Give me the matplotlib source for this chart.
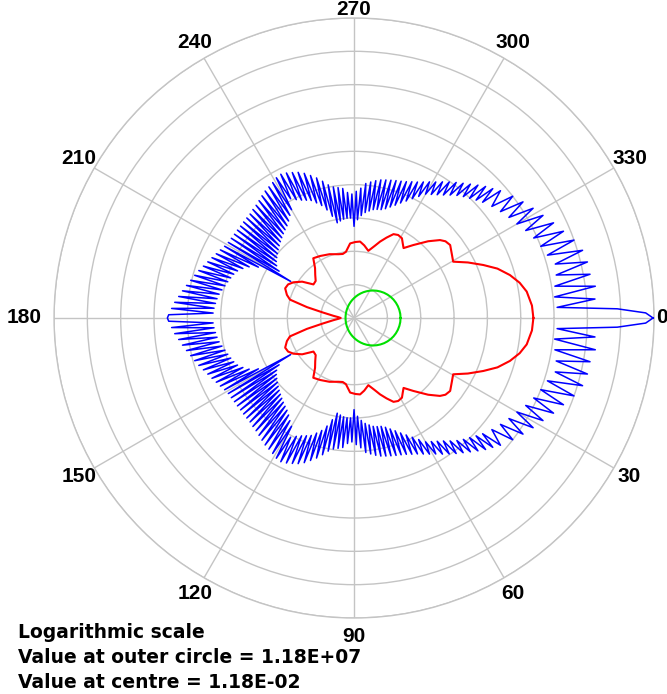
import numpy as np
import matplotlib
matplotlib.use("Agg")
import matplotlib.pyplot as plt

# Radii are given in decades above the centre value (log scale, 9 decades to outer circle)
CENTRE_VALUE = "1.18E-02"
OUTER_VALUE = "1.18E+07"
N_DECADES = 9

# ---- angle labels ----
angle_ticks = [0, 30, 60, 90, 120, 150, 180, 210, 240, 270, 300, 330]

# ---- green curve (lower half, mirrored) ----
green_deg = [0, 5, 10, 15, 20, 25, 30, 35, 40, 45, 50, 55, 60, 65, 70, 75, 80,
             85, 90, 95, 100, 105, 110, 115, 120, 125, 130, 135, 140, 145, 150,
             155, 160, 165, 170, 175, 180]
green_dec = [1.395, 1.392, 1.380, 1.362, 1.337, 1.306, 1.268, 1.224, 1.176,
             1.122, 1.066, 1.007, 0.946, 0.884, 0.823, 0.762, 0.704, 0.648,
             0.596, 0.549, 0.506, 0.467, 0.433, 0.402, 0.376, 0.353, 0.334,
             0.317, 0.303, 0.291, 0.281, 0.272, 0.266, 0.261, 0.258, 0.256,
             0.255]

# ---- red curve (lower half, mirrored) ----
red_deg = [0, 4, 8.7, 12, 15.4, 19, 22.3, 26, 29.6, 33, 37.2, 40, 42.2, 46,
           50.9, 54.7, 57, 59, 62, 64.8, 68, 71.2, 74, 78, 82, 85.5, 89, 93,
           97, 100, 103.8, 111, 118.7, 124.3, 128, 132, 136, 140.4, 145,
           149.5, 153, 156.7, 161, 164, 167, 170, 174, 177, 180]
red_dec = [5.38, 5.35, 5.24, 5.08, 4.85, 4.55, 4.19, 3.80, 3.42, 3.50, 3.62,
           3.58, 3.48, 3.20, 2.82, 2.57, 2.68, 2.79, 2.82, 2.78, 2.60, 2.42,
           2.25, 2.06, 2.20, 2.30, 2.28, 2.24, 2.00, 1.95, 1.97, 2.05, 2.12,
           2.17, 1.90, 1.74, 1.60, 1.58, 1.90, 2.11, 2.22, 2.25, 2.13, 2.00,
           1.45, 0.95, 0.62, 0.47, 0.40]

# ---- blue curve (lower half, mirrored): main lobe, then peaks / troughs ----
blue_lobe_deg = [0, 1, 2]
blue_lobe_dec = [8.97, 8.75, 7.90]

blue_peak_deg = [4.5, 7.5, 10.5, 13.5, 16.5, 19.5, 22.5, 25.5, 28.5, 31.5,
                 34.5, 37.5,
                 41, 43, 45, 47, 49, 51, 53, 55, 57, 59, 61, 63, 65, 67, 69,
                 71, 73, 75, 77, 79, 81, 83, 85, 87, 89, 91, 93, 95, 97, 99,
                 101, 103, 105, 107, 109, 111, 113, 115, 117, 119, 121, 123,
                 125, 127, 129, 131, 133, 135, 137, 139, 141, 143, 145, 147,
                 149, 151, 153, 155, 157, 159, 161, 163, 165, 167, 169, 171,
                 173, 175, 177, 179, 180]
blue_peak_dec = [7.25, 7.30, 7.20, 7.20, 7.15, 7.00, 6.80, 6.63, 6.45, 6.30,
                 6.15, 6.00,
                 5.82, 5.69, 5.58, 5.45, 5.32, 5.20, 5.09, 4.98, 4.87, 4.76,
                 4.67, 4.58, 4.50, 4.44, 4.38, 4.34, 4.31, 4.28, 4.25, 4.22,
                 4.17, 4.11, 4.05, 3.90, 3.80, 3.72, 3.77, 3.90, 3.94, 3.98,
                 4.07, 4.21, 4.35, 4.47, 4.59, 4.68, 4.74, 4.80, 4.84, 4.81,
                 4.74, 4.69, 4.65, 4.59, 4.53, 4.48, 4.45, 4.41, 4.40, 4.39,
                 4.38, 4.38, 4.38, 4.39, 4.40, 4.44, 4.50, 4.56, 4.63, 4.70,
                 4.78, 4.87, 4.95, 5.03, 5.12, 5.21, 5.30, 5.40, 5.48, 5.56,
                 5.60]

blue_trough_deg = [3, 6, 9, 12, 15, 18, 21, 24, 27, 30, 33, 36, 39,
                   42, 44, 46, 48, 50, 52, 54, 56, 58, 60, 62, 64, 66, 68, 70,
                   72, 74, 76, 78, 80, 82, 84, 86, 88, 90, 92, 94, 96, 98, 100,
                   102, 104, 106, 108, 110, 112, 114, 116, 118, 120, 122, 124,
                   126, 128, 130, 132, 134, 136, 138, 140, 142, 144, 146, 148,
                   150, 152, 154, 156, 158, 160, 162, 164, 166, 168, 170, 172,
                   174, 176, 178]
blue_trough_dec = [6.10, 6.05, 6.10, 6.20, 6.25, 6.10, 6.00, 5.90, 5.78, 5.64,
                   5.54, 5.43, 5.32,
                   5.19, 5.09, 4.99, 4.90, 4.80, 4.68, 4.56, 4.46, 4.37, 4.29,
                   4.13, 3.98, 3.84, 3.72, 3.60, 3.50, 3.41, 3.35, 3.33, 3.30,
                   3.24, 3.18, 3.08, 2.95, 2.75, 3.00, 3.00, 2.98, 2.94, 2.90,
                   3.12, 3.34, 3.51, 3.63, 3.75, 3.81, 3.87, 3.95, 4.05, 3.75,
                   3.63, 3.51, 3.42, 3.36, 3.30, 3.24, 3.18, 3.12, 3.06, 3.00,
                   2.94, 2.88, 2.80, 2.65, 2.20, 3.25, 3.50, 3.65, 3.77, 3.84,
                   3.89, 3.94, 3.99, 4.05, 4.11, 4.15, 4.18, 4.21, 4.23]


def mirror(deg, val):
    deg = np.asarray(deg, float)
    val = np.asarray(val, float)
    order = np.argsort(deg, kind="stable")
    deg, val = deg[order], val[order]
    full_deg = np.concatenate([deg, 360 - deg[::-1][1:]])
    full_val = np.concatenate([val, val[::-1][1:]])
    return np.deg2rad(full_deg), full_val


blue_deg_all = blue_lobe_deg + blue_peak_deg + blue_trough_deg
blue_dec_all = blue_lobe_dec + blue_peak_dec + blue_trough_dec

fig = plt.figure(figsize=(6.67, 6.94), dpi=100)
ax = fig.add_axes([0.081, 0.1095, 0.8996, 0.8646], projection="polar")
ax.set_theta_zero_location("E")
ax.set_theta_direction(-1)
ax.set_ylim(0, N_DECADES)

grid_col = "#c4c4c4"
ax.set_rgrids(list(range(1, N_DECADES + 1)), labels=[""] * N_DECADES)
ax.set_thetagrids(angle_ticks, labels=[""] * len(angle_ticks))
ax.grid(True, color=grid_col, linewidth=1.0)
ax.spines["polar"].set_color(grid_col)
ax.spines["polar"].set_linewidth(1.0)
ax.tick_params(length=0)

th, r = mirror(blue_deg_all, blue_dec_all)
ax.plot(th, r, color="#0000ff", linewidth=1.1, zorder=3)
th, r = mirror(red_deg, red_dec)
ax.plot(th, r, color="#ff0000", linewidth=1.5, zorder=3)
th, r = mirror(green_deg, green_dec)
ax.plot(th, r, color="#00e000", linewidth=1.5, zorder=3)

label_r = {0: 1.025, 270: 1.028, 180: 1.10}
for a in angle_ticks:
    rr = N_DECADES * label_r.get(a, 1.06)
    ax.text(np.deg2rad(a), rr, str(a), ha="center", va="center",
            fontsize=15, fontweight="bold", family="Liberation Sans",
            color="black", clip_on=False)

lines = ["Logarithmic scale",
         "Value at outer circle = " + OUTER_VALUE,
         "Value at centre = " + CENTRE_VALUE]
for i, s in enumerate(lines):
    fig.text(18 / 667, 1 - (632 + 25.5 * i) / 694, s, ha="left", va="center",
             fontsize=13.5, fontweight="bold", family="DejaVu Sans",
             color="black")

fig.savefig("out.png", dpi=100)
